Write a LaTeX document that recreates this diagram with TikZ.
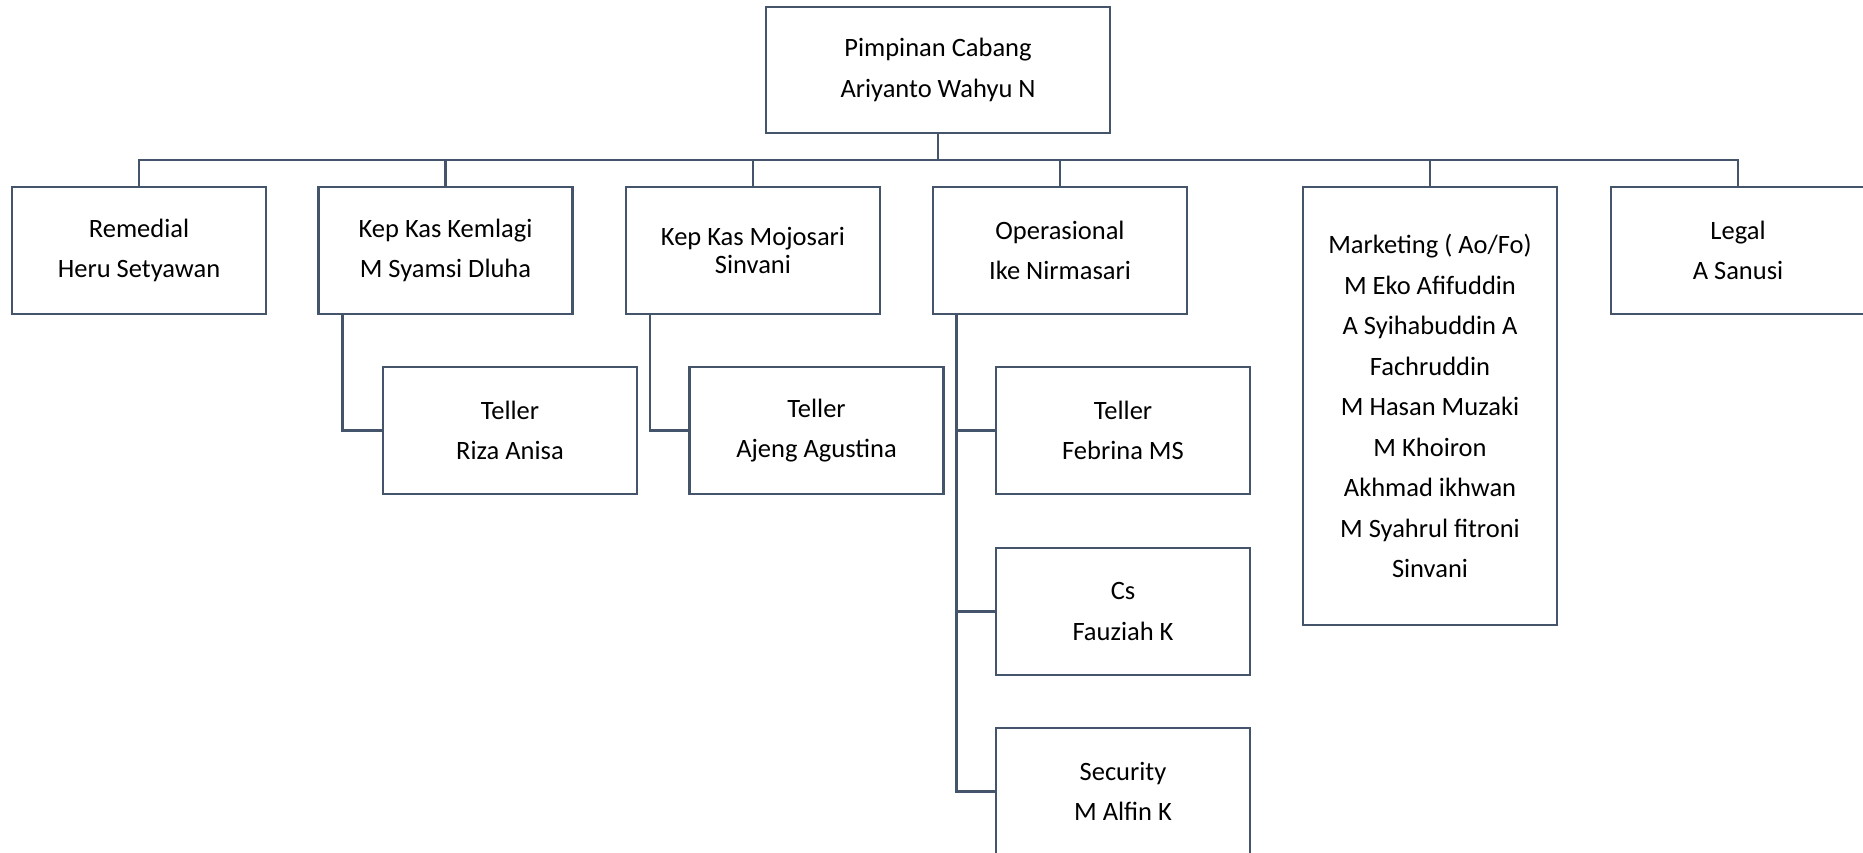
\documentclass[tikz,border=0pt]{standalone}
\usepackage{fontspec}
\setmainfont{Carlito}
\definecolor{linecol}{HTML}{44546A}
\begin{document}
\begin{tikzpicture}[x=1pt,y=-1pt,
  box/.style={draw=linecol, line width=2.2pt, fill=white, rectangle,
    minimum width=254pt, minimum height=127pt, inner sep=0pt,
    align=center, text=black, font=\fontsize{26.5}{40.5}\selectfont},
  link/.style={draw=linecol, line width=2.2pt}]
\useasboundingbox (0,0) rectangle (1863,853);

% head of the branch
\node[box, minimum width=344pt, minimum height=126pt] (head) at (938,70)
  {Pimpinan Cabang\\Ariyanto Wahyu N};

% first level
\node[box] (remedial) at (139,250.5) {Remedial\\Heru Setyawan};
\node[box] (kemlagi) at (445.5,250.5) {Kep Kas Kemlagi\\M Syamsi Dluha};
\node[box, font=\fontsize{26.5}{28}\selectfont] (mojosari) at (753,250.5)
  {Kep Kas Mojosari\\Sinvani};
\node[box] (ops) at (1060,250.5) {Operasional\\Ike Nirmasari};
\node[box, minimum height=438pt] (marketing) at (1430,406)
  {Marketing ( Ao/Fo)\\M Eko Afifuddin\\A Syihabuddin A\\Fachruddin\\M Hasan Muzaki\\M Khoiron\\Akhmad ikhwan\\M Syahrul fitroni\\Sinvani};
\node[box] (legal) at (1738,250.5) {Legal\\A Sanusi};

% second level
\node[box] (riza) at (510,430.5) {Teller\\Riza Anisa};
\node[box] (ajeng) at (816.5,430.5) {Teller\\Ajeng Agustina};
\node[box] (febrina) at (1123,430.5) {Teller\\Febrina MS};
\node[box] (cs) at (1123,611.5) {Cs\\Fauziah K};
\node[box] (security) at (1123,791.5) {Security\\M Alfin K};

% bus below the head
\coordinate (bus) at (0,160);
\foreach \c in {remedial,kemlagi,mojosari,ops,marketing,legal}
  \draw[link] (head.south) -- (head.south |- bus) -| (\c.north);

% drops to the second level
\coordinate (kdrop) at ([xshift=25pt]kemlagi.south west);
\coordinate (mdrop) at ([xshift=25pt]mojosari.south west);
\coordinate (odrop) at ([xshift=24.5pt]ops.south west);
\draw[link] (kdrop) |- (riza.west);
\draw[link] (mdrop) |- (ajeng.west);
\draw[link] (odrop) |- (security.west);
\draw[link] (febrina.west) -- (febrina.west -| odrop);
\draw[link] (cs.west) -- (cs.west -| odrop);
\end{tikzpicture}
\end{document}
